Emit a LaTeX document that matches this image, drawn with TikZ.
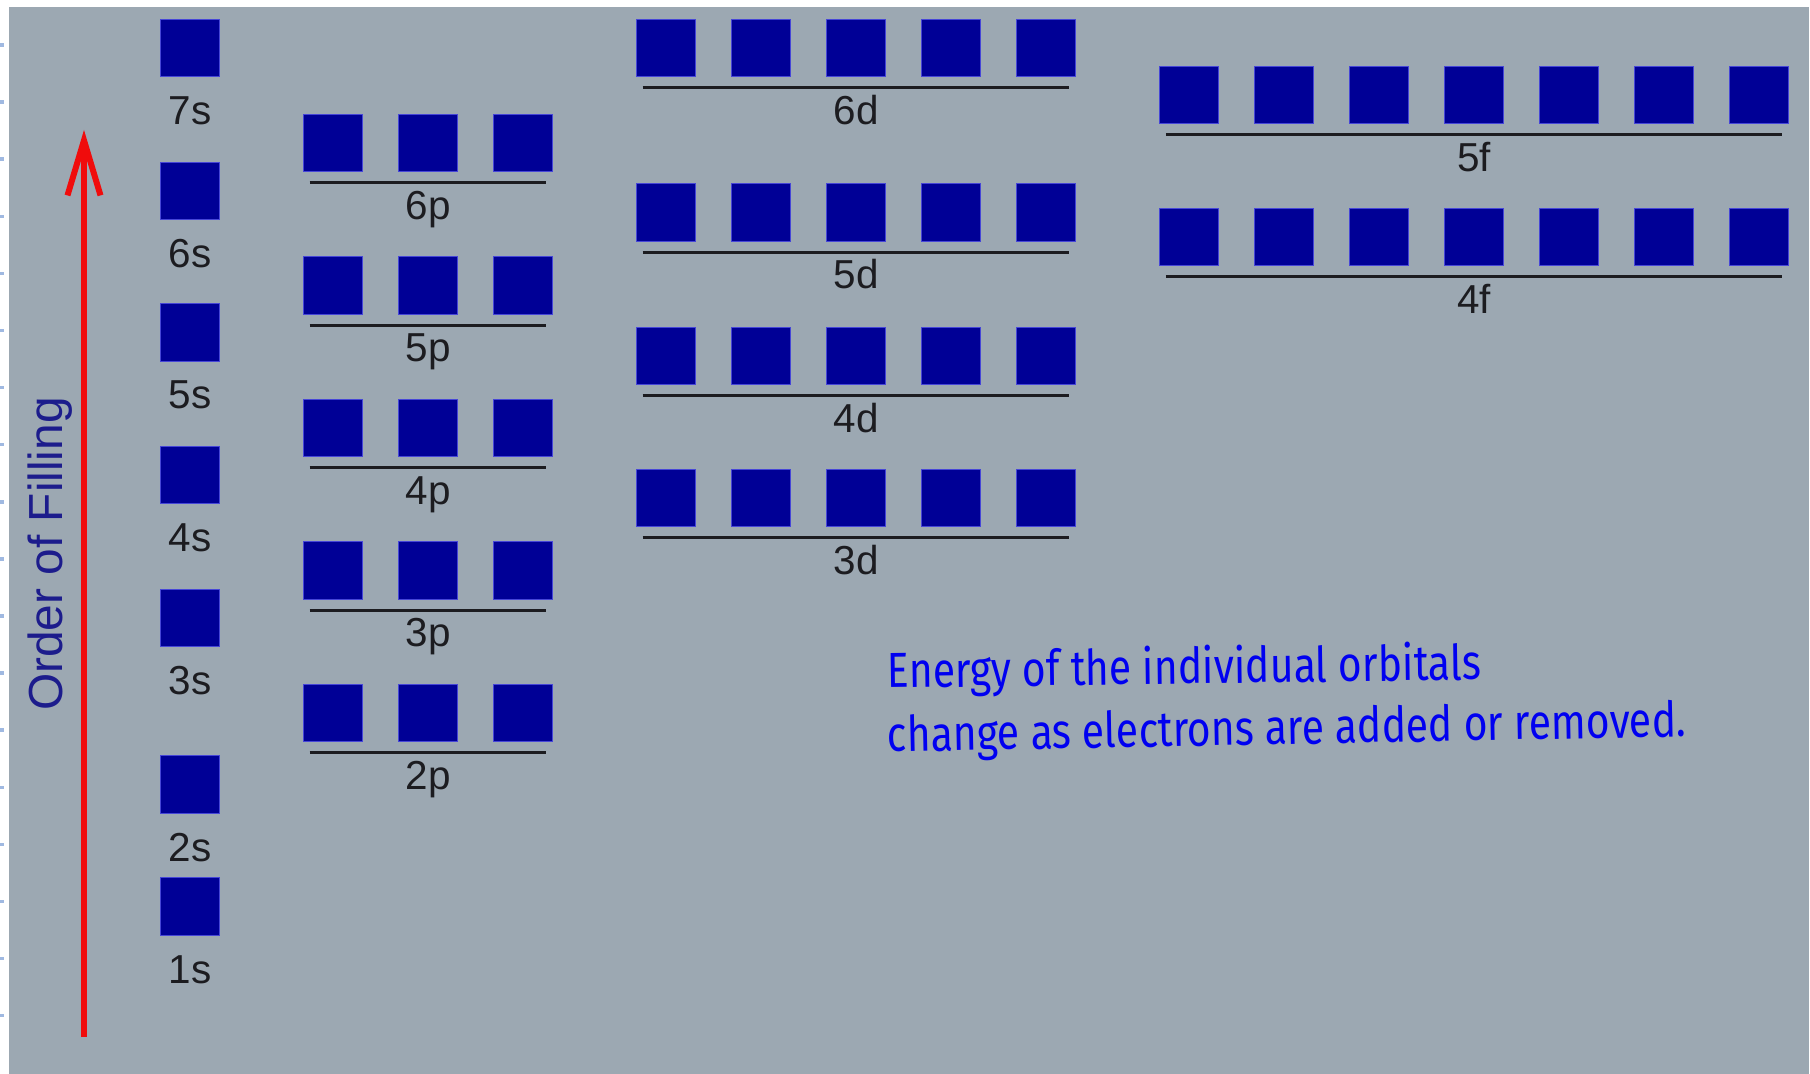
\documentclass[tikz,border=0pt]{standalone}
\usepackage{fontspec}
\setmainfont{Liberation Sans}
\newfontfamily\handfont[FakeStretch=0.83]{Fira Sans}
\usepackage{xcolor}
\usepackage{tikz}
\usetikzlibrary{arrows.meta, positioning}
\definecolor{bggray}{RGB}{156,168,178}
\definecolor{orbblue}{RGB}{0,0,150}
\definecolor{orbedge}{RGB}{70,70,215}
\definecolor{arrred}{RGB}{240,12,12}
\definecolor{ordblue}{RGB}{28,28,140}
\definecolor{inkblue}{RGB}{0,0,240}
\definecolor{tickblue}{RGB}{160,185,225}
\definecolor{lvldark}{RGB}{28,28,32}
\tikzset{
  orb/.style={rectangle, draw=orbedge, fill=orbblue, line width=0.4pt,
    minimum width=0.585cm, minimum height=0.575cm, inner sep=0pt, outer sep=0pt},
  lbl/.style={font=\fontsize{11.5}{13}\selectfont, text=lvldark, anchor=base,
    inner sep=0pt},
  level/.style={line width=0.8pt, color=lvldark},
  ordtext/.style={font=\fontsize{13.6}{16}\selectfont, text=ordblue, inner sep=0pt},
  hand/.style={font=\handfont\fontsize{14}{16}\selectfont, text=inkblue,
    inner sep=0pt, anchor=base west},
  tick/.style={tickblue, line width=1pt, dash pattern=on 1.2pt off 1.3pt},
  arrow/.style={-{Straight Barb[length=0.55cm, width=0.33cm]}, line width=1.7pt, color=arrred}
}
\begin{document}
\begin{tikzpicture}[x=0.01cm, y=-0.01cm]
  \useasboundingbox (0,0) rectangle (1810,1074);
  \fill[white] (0,0) rectangle (1810,1074);
  \fill[bggray] (9,7) rectangle (1809,1074);
  \foreach \k in {0,...,17}
    \draw[tick] (0,45+57.1*\k) -- (8.5,45+57.1*\k);

  % Order of filling
  \coordinate (abot) at (84,1037);
  \coordinate (atop) at (84,130);
  \draw[arrow] (abot) -- (atop);
  \node[ordtext, rotate=90, anchor=base] (order) at (62,554) {Order of Filling};

  % s orbitals
  \foreach \n/\y in {7/48, 6/191, 5/332.5, 4/475, 3/618, 2/784.5, 1/906.5} {
    \node[orb] (s\n) at (190,\y) {};
    \node[lbl] (ls\n) at (190,\y+76.5) {\n s};
  }

  % p orbitals
  \foreach \n/\y in {6/143, 5/285.5, 4/428, 3/570.5, 2/713} {
    \foreach \i in {1,2,3}
      \node[orb] (p\n-\i) at (238+95*\i,\y) {};
    \draw[level] ([shift={(6,11)}]p\n-1.south west) -- ([shift={(-6,11)}]p\n-3.south east);
    \node[lbl] (lp\n) at (428,\y+76.5) {\n p};
  }

  % d orbitals
  \foreach \n/\y in {6/48, 5/212.5, 4/356, 3/498} {
    \foreach \i in {1,...,5}
      \node[orb] (d\n-\i) at (571+95*\i,\y) {};
    \draw[level] ([shift={(6,11)}]d\n-1.south west) -- ([shift={(-6,11)}]d\n-5.south east);
    \node[lbl] (ld\n) at (856,\y+76.5) {\n d};
  }

  % f orbitals
  \foreach \n/\y in {5/95, 4/237} {
    \foreach \i in {1,...,7}
      \node[orb] (f\n-\i) at (1094+95*\i,\y) {};
    \draw[level] ([shift={(6,11)}]f\n-1.south west) -- ([shift={(-6,11)}]f\n-7.south east);
    \node[lbl] (lf\n) at (1474,\y+76.5) {\n f};
  }

  % handwritten note
  \node[hand, rotate=0.8] (note1) at (887,688) {Energy of the individual orbitals};
  \node[hand, rotate=1.1] (note2) at (887,752) {change as electrons are added or removed.};
\end{tikzpicture}
\end{document}
